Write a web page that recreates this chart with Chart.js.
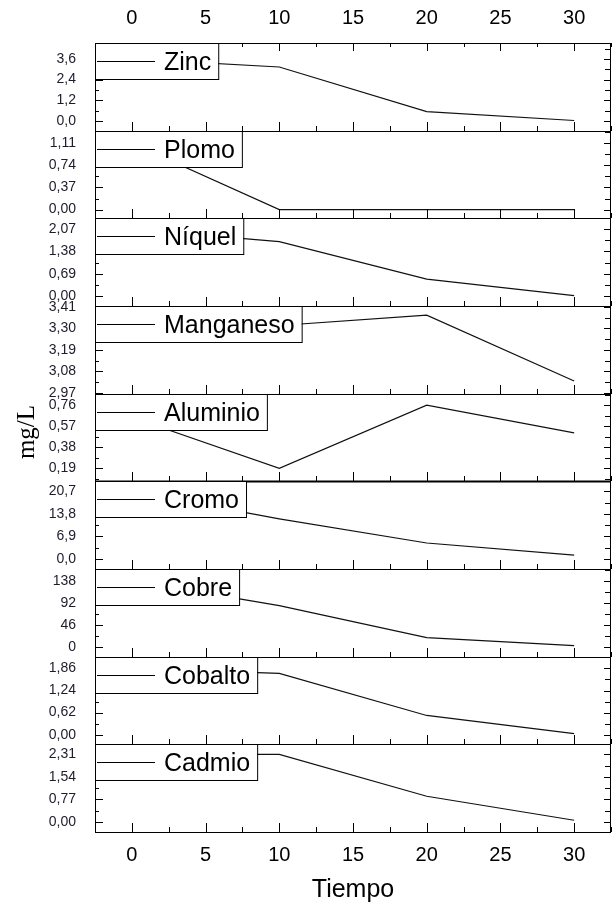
<!DOCTYPE html>
<html>
<head>
<meta charset="utf-8">
<script src="https://cdn.jsdelivr.net/npm/chart.js@4.4.1/dist/chart.umd.min.js"></script>
<style>
  html, body { margin: 0; padding: 0; background: #fff; }
</style>
</head>
<body>
<canvas id="metalesChart" width="613" height="905"></canvas>
<script>
// tiempo de muestreo y concentraciones (mg/L)
const tiempo = [0, 10, 20, 30];
const metales = ['Zinc', 'Plomo', 'Níquel', 'Manganeso', 'Aluminio', 'Cromo', 'Cobre', 'Cobalto', 'Cadmio'];

const zinc      = [3.6, 3.13, 0.54, 0.03];
const plomo     = [1.11, 0.0, 0.0, 0.0];
const niquel    = [2.07, 1.68, 0.53, 0.02];
const manganeso = [3.41, 3.315, 3.368, 3.03];
const aluminio  = [0.65, 0.19, 0.76, 0.51];
const cromo     = [20.7, 12.3, 4.9, 1.2];
const cobre     = [138, 86, 19, 2];
const cobalto   = [1.86, 1.72, 0.54, 0.03];
const cadmio    = [2.31, 2.31, 0.88, 0.06];

// tick labels
const xTicks         = [0, 5, 10, 15, 20, 25, 30];
const zincTicks      = [0, 1.2, 2.4, 3.6];
const plomoTicks     = [0, 0.37, 0.74, 1.11];
const niquelTicks    = [0, 0.69, 1.38, 2.07];
const manganesoTicks = [2.97, 3.08, 3.19, 3.30, 3.41];
const aluminioTicks  = [0.19, 0.38, 0.57, 0.76];
const cromoTicks     = [0, 6.9, 13.8, 20.7];
const cobreTicks     = [0, 46, 92, 138];
const cobaltoTicks   = [0, 0.62, 1.24, 1.86];
const cadmioTicks    = [0, 0.77, 1.54, 2.31];

const series = [zinc, plomo, niquel, manganeso, aluminio, cromo, cobre, cobalto, cadmio];
const tickSets = [zincTicks, plomoTicks, niquelTicks, manganesoTicks, aluminioTicks,
                  cromoTicks, cobreTicks, cobaltoTicks, cadmioTicks];
const decimals = [1, 2, 2, 2, 2, 1, 0, 2, 2];
// axis ranges (top panel first)
const ranges = [
  [-0.56, 4.52], [-0.146, 1.32], [-0.30, 2.40], [2.965, 3.415], [0.073, 0.863],
  [-3.08, 23.8], [-20.9, 162.5], [-0.27, 2.19], [-0.34, 2.65]
];

Chart.defaults.font.family = "'Liberation Sans', Arial, sans-serif";
Chart.defaults.color = '#000';

const FONT = "'Liberation Sans', Arial, sans-serif";

function fmt(v, d) {
  return v.toFixed(d).replace('.', ',');
}

function midpoints(arr, lo, hi) {
  const out = [];
  const step = arr[1] - arr[0];
  for (let i = 0; i < arr.length - 1; i++) out.push((arr[i] + arr[i + 1]) / 2);
  const below = arr[0] - step / 2, above = arr[arr.length - 1] + step / 2;
  if (below >= lo) out.push(below);
  if (above <= hi) out.push(above);
  return out;
}

const scales = {
  x: {
    type: 'linear', position: 'bottom', min: -2.5, max: 32.5,
    afterBuildTicks: s => { s.ticks = xTicks.map(v => ({ value: v })); },
    afterFit: s => { s.height = 73; },
    ticks: { font: { size: 20 }, color: '#000', padding: 3, maxRotation: 0, autoSkip: false },
    grid: { display: false }, border: { display: false },
    title: { display: true, text: 'Tiempo', font: { size: 25 }, color: '#000', padding: { top: 8, bottom: 0 } }
  },
  xTop: {
    type: 'linear', position: 'top', min: -2.5, max: 32.5,
    afterBuildTicks: s => { s.ticks = xTicks.map(v => ({ value: v })); },
    afterFit: s => { s.height = 43; },
    ticks: { font: { size: 20 }, color: '#000', padding: 5, maxRotation: 0, autoSkip: false },
    grid: { display: false }, border: { display: false }
  }
};

// left stacked axes: the last one defined ends up on top, so add bottom panel first
for (let i = metales.length - 1; i >= 0; i--) {
  scales['y' + i] = {
    type: 'linear', position: 'left', stack: 'metales', stackWeight: 1,
    min: ranges[i][0], max: ranges[i][1],
    afterBuildTicks: s => { s.ticks = tickSets[i].map(v => ({ value: v })); },
    afterFit: s => { s.width = 95; },
    ticks: {
      font: { size: 14 }, color: '#1c1c2c', padding: 11, autoSkip: false,
      callback: v => fmt(v, decimals[i])
    },
    grid: { display: false }, border: { display: false }
  };
}

const datasets = metales.map((name, i) => ({
  label: name,
  data: tiempo.map((t, k) => ({ x: t, y: series[i][k] })),
  xAxisID: 'x',
  yAxisID: 'y' + i,
  borderColor: '#111',
  borderWidth: 1.2,
  pointRadius: 0,
  tension: 0,
  fill: false
}));

// frames, inward ticks and a legend box in every panel
const panelPlugin = {
  id: 'panelPlugin',
  afterDatasetsDraw(chart) {
    const ctx = chart.ctx;
    const xs = chart.scales.x;
    const left = chart.chartArea.left, right = chart.chartArea.right;
    const xMinor = midpoints(xTicks, xs.min, xs.max);

    ctx.save();
    ctx.strokeStyle = '#000';
    ctx.lineWidth = 1;

    metales.forEach((name, i) => {
      const ys = chart.scales['y' + i];
      const top = Math.round(ys.top), bottom = Math.round(ys.bottom);

      ctx.beginPath();
      // x ticks pointing up from the bottom of each panel
      xTicks.forEach(v => {
        const px = Math.round(xs.getPixelForValue(v)) + 0.5;
        ctx.moveTo(px, bottom); ctx.lineTo(px, bottom - 9);
      });
      xMinor.forEach(v => {
        const px = Math.round(xs.getPixelForValue(v)) + 0.5;
        ctx.moveTo(px, bottom); ctx.lineTo(px, bottom - 5);
      });
      if (i === 0) {
        xTicks.forEach(v => {
          const px = Math.round(xs.getPixelForValue(v)) + 0.5;
          ctx.moveTo(px, top); ctx.lineTo(px, top + 8);
        });
        xMinor.forEach(v => {
          const px = Math.round(xs.getPixelForValue(v)) + 0.5;
          ctx.moveTo(px, top); ctx.lineTo(px, top + 4);
        });
      }
      // y ticks on both sides
      tickSets[i].forEach(v => {
        const py = Math.round(ys.getPixelForValue(v)) + 0.5;
        ctx.moveTo(left, py); ctx.lineTo(left + 8, py);
        ctx.moveTo(right, py); ctx.lineTo(right - 7, py);
      });
      midpoints(tickSets[i], ys.min, ys.max).forEach(v => {
        const py = Math.round(ys.getPixelForValue(v)) + 0.5;
        ctx.moveTo(left, py); ctx.lineTo(left + 4, py);
        ctx.moveTo(right, py); ctx.lineTo(right - 6, py);
      });
      ctx.stroke();

      // frame
      ctx.lineWidth = 1;
      ctx.strokeRect(left + 0.5, top + 0.5, right - left - 1, bottom - top);
      if (i === 4) {
        ctx.lineWidth = 2;
        ctx.beginPath();
        ctx.moveTo(left, bottom + 0.5); ctx.lineTo(right, bottom + 0.5);
        ctx.stroke();
        ctx.lineWidth = 1;
      }

      // legend box
      ctx.font = '25px ' + FONT;
      const textX = left + 69;
      const boxW = textX + ctx.measureText(name).width + 7 - left;
      const boxH = 36;
      ctx.fillStyle = '#fff';
      ctx.fillRect(left, top, boxW, boxH);
      ctx.strokeRect(left + 0.5, top + 0.5, boxW, boxH);
      ctx.beginPath();
      ctx.moveTo(left + 2, top + 18.5); ctx.lineTo(left + 60, top + 18.5);
      ctx.stroke();
      ctx.fillStyle = '#000';
      ctx.textBaseline = 'middle';
      ctx.textAlign = 'left';
      ctx.fillText(name, textX, top + 20);
    });

    // y title
    ctx.translate(27, 432);
    ctx.rotate(-Math.PI / 2);
    ctx.font = "25px 'Liberation Serif', 'DejaVu Serif', serif";
    ctx.textAlign = 'center';
    ctx.textBaseline = 'middle';
    ctx.fillStyle = '#000';
    ctx.fillText('mg/L', 0, 0);
    ctx.restore();
  }
};

const ctx = document.getElementById('metalesChart').getContext('2d');
const metalesChart = new Chart(ctx, {
  type: 'line',
  data: { datasets: datasets },
  options: {
    responsive: false,
    animation: false,
    layout: { padding: { left: 0, right: 2, top: 0, bottom: 0 } },
    scales: scales,
    plugins: {
      legend: { display: false },
      tooltip: { enabled: false }
    }
  },
  plugins: [panelPlugin]
});
</script>
</body>
</html>
